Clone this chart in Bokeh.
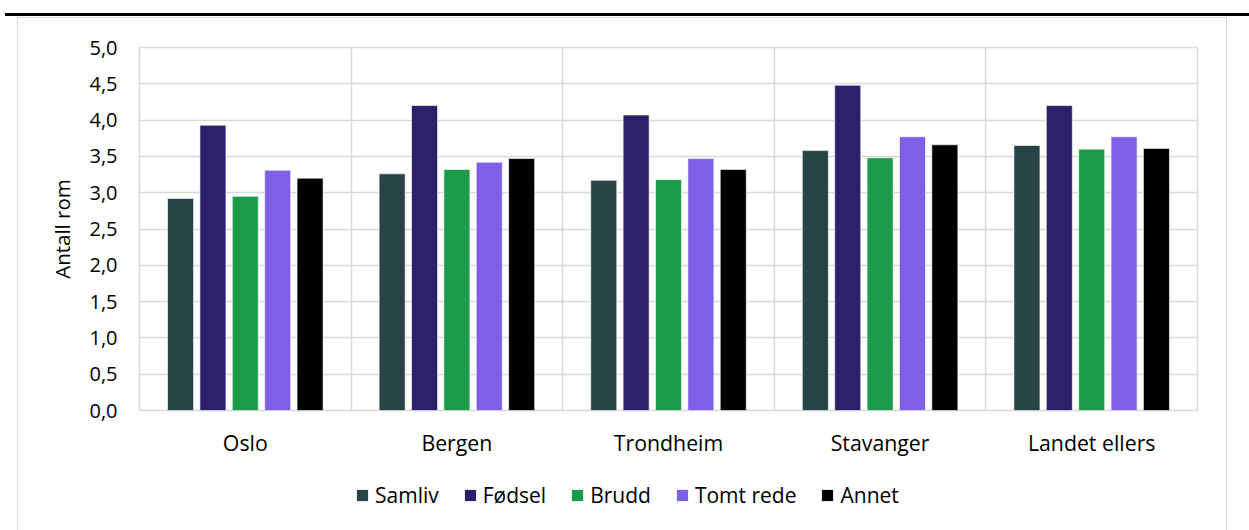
from bokeh.plotting import figure
from bokeh.layouts import column
from bokeh.models import (FactorRange, Range1d, FixedTicker, Legend, LegendItem,
                          ColumnDataSource, InlineStyleSheet)
from bokeh.transform import dodge
from bokeh.embed import file_html
from bokeh.resources import INLINE

# ---- data ----
categories = ["Oslo", "Bergen", "Trondheim", "Stavanger", "Landet ellers"]
series = ["Samliv", "Fødsel", "Brudd", "Tomt rede", "Annet"]
samliv = [2.92, 3.26, 3.17, 3.58, 3.65]
fodsel = [3.93, 4.20, 4.07, 4.48, 4.20]
brudd = [2.95, 3.32, 3.18, 3.48, 3.60]
tomt_rede = [3.31, 3.42, 3.47, 3.77, 3.77]
annet = [3.20, 3.47, 3.32, 3.66, 3.61]
y_ticks = [0.0, 0.5, 1.0, 1.5, 2.0, 2.5, 3.0, 3.5, 4.0, 4.5, 5.0]
y_tick_labels = ["0,0", "0,5", "1,0", "1,5", "2,0", "2,5", "3,0", "3,5", "4,0", "4,5", "5,0"]
y_label = "Antall rom"

colors = ["#274346", "#2e1f6b", "#1c9c4a", "#7f5fe6", "#000000"]
values = [samliv, fodsel, brudd, tomt_rede, annet]

FONT = "Open Sans"
W = 1249
H_MAIN, H_LEG = 465, 65
GRID = "#d9d9d9"

source = ColumnDataSource(dict(cat=categories, **{f"s{i}": v for i, v in enumerate(values)}))

p = figure(x_range=FactorRange(*categories), y_range=Range1d(0, 5),
           width=W, height=H_MAIN, output_backend="svg", toolbar_location=None,
           min_border_left=139, min_border_right=52, min_border_top=47,
           min_border_bottom=55)
p.x_range.range_padding = 0
p.outline_line_color = GRID
p.outline_line_width = 1.5
p.background_fill_color = "white"
p.border_fill_color = "white"

step = 0.153
bar_w = 0.123
for i, (name, col) in enumerate(zip(series, colors)):
    off = (i - 2) * step
    p.vbar(x=dodge("cat", off, range=p.x_range), top=f"s{i}", width=bar_w,
           source=source, fill_color=col, line_color="white", line_alpha=0.6,
           line_width=1)

# grids
p.ygrid.ticker = FixedTicker(ticks=y_ticks)
p.ygrid.grid_line_color = GRID
p.ygrid.grid_line_width = 1.5
p.xgrid.ticker = FixedTicker(ticks=[0, 1, 2, 3, 4, 5])
p.xgrid.grid_line_color = GRID
p.xgrid.grid_line_width = 1.5

# axes
p.yaxis.ticker = FixedTicker(ticks=y_ticks)
p.yaxis.major_label_overrides = {t: l for t, l in zip(y_ticks, y_tick_labels)}
for ax in (p.xaxis[0], p.yaxis[0]):
    ax.axis_line_color = None
    ax.major_tick_line_color = None
    ax.minor_tick_line_color = None
    ax.major_tick_in = 0
    ax.major_tick_out = 0
    ax.major_label_text_font = FONT
    ax.major_label_text_color = "#000000"
p.yaxis.major_label_text_font_size = "20px"
p.xaxis.major_label_text_font_size = "21.3px"
p.yaxis.major_label_standoff = 22
p.xaxis.major_label_standoff = 17
p.yaxis.axis_label = y_label
p.yaxis.axis_label_text_font = FONT
p.yaxis.axis_label_text_font_size = "20.5px"
p.yaxis.axis_label_text_font_style = "normal"
p.yaxis.axis_label_text_color = "#000000"
p.yaxis.axis_label_standoff = 10

# legend strip (separate figure so the legend is not clipped by the chart frame);
# its proxy bars use the same data but sit below this strip's visible y range
pl = figure(width=W, height=H_LEG, x_range=p.x_range, y_range=Range1d(10, 11),
            output_backend="svg", toolbar_location=None, min_border=0,
            x_axis_location=None, y_axis_location=None)
pl.outline_line_color = None
pl.xgrid.visible = False
pl.ygrid.visible = False
pl.background_fill_color = "white"
pl.border_fill_color = "white"
leg_renderers = []
for i, (name, col) in enumerate(zip(series, colors)):
    off = (i - 2) * step
    r = pl.vbar(x=dodge("cat", off, range=p.x_range), top=f"s{i}", width=bar_w,
                source=source, fill_color=col, line_color=None)
    leg_renderers.append(r)
legend = Legend(items=[LegendItem(label=s, renderers=[r]) for s, r in zip(series, leg_renderers)],
                orientation="horizontal", location=(216, 21),
                label_text_font=FONT, label_text_font_size="21px",
                label_text_color="#000000",
                glyph_width=14, glyph_height=14, label_standoff=6, spacing=24,
                padding=0, margin=0, border_line_color=None,
                background_fill_alpha=0)
pl.add_layout(legend, "center")

layout = column(p, pl, spacing=0)

# decorations: top black rule and light chart border (page chrome)
layout.stylesheets = [InlineStyleSheet(css="""
:host::before { content: ""; position: absolute; left: 5px; right: 0px; top: 13px;
  height: 3px; background: #000000; z-index: 10; pointer-events: none; }
:host::after { content: ""; position: absolute; left: 17px; top: 17px; width: 1210px;
  height: 513px; box-sizing: border-box; border: 1.5px solid #d9d9d9; border-bottom: none;
  z-index: 10; pointer-events: none; }
""")]

open("out.html", "w").write(file_html(layout, INLINE))
